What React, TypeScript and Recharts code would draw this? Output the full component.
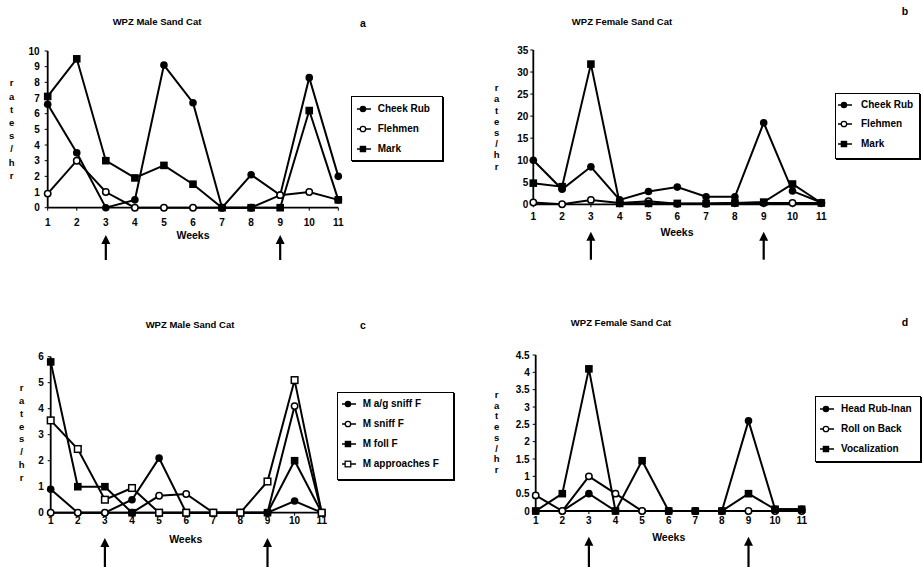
import React from "react";
import { LineChart, Line, XAxis, YAxis } from "recharts";

const FONT = '"Liberation Sans", Arial, Helvetica, sans-serif';

// weeks on the x axis, arrows mark weeks 3 and 9
const weeks = [1, 2, 3, 4, 5, 6, 7, 8, 9, 10, 11];
const arrowWeeks = [3, 9];

// a: WPZ male, scent behaviours
const maleCheekRub = [6.6, 3.5, 0, 0.5, 9.1, 6.7, 0, 2.1, 0.8, 8.3, 2.0];
const maleFlehmen = [0.9, 3.0, 1.0, 0, 0, 0, 0, 0, 0.8, 1.0, 0.5];
const maleMark = [7.1, 9.5, 3.0, 1.9, 2.7, 1.5, 0, 0, 0, 6.2, 0.5];

// b: WPZ female, scent behaviours
const femaleCheekRub = [10.0, 3.4, 8.5, 1.0, 2.9, 3.9, 1.7, 1.7, 18.5, 3.0, 0.4];
const femaleFlehmen = [0.4, 0, 1.0, 0.3, 0.7, 0.1, 0.1, 0.3, 0.3, 0.3, 0.3];
const femaleMark = [4.8, 4.0, 31.8, 0.2, 0.2, 0.2, 0.2, 0.3, 0.5, 4.6, 0.3];

// c: WPZ male, behaviour towards female
const maleAgSniff = [0.9, 0, 0, 0.5, 2.1, 0, 0, 0, 0, 0.45, 0];
const maleSniff = [0, 0, 0, 0, 0.65, 0.72, 0, 0, 0, 4.1, 0];
const maleFollow = [5.8, 1.0, 1.0, 0, 0, 0, 0, 0, 0, 2.0, 0];
const maleApproach = [3.55, 2.45, 0.5, 0.95, 0, 0, 0, 0, 1.2, 5.1, 0];

// d: WPZ female, other behaviours
const femaleHeadRub = [0, 0, 0.5, 0, 0, 0, 0, 0, 2.6, 0.05, 0.05];
const femaleRollOnBack = [0.45, 0, 1.0, 0.5, 0, 0, 0, 0, 0, 0, 0];
const femaleVocalization = [0, 0.5, 4.1, 0, 1.45, 0, 0, 0, 0.5, 0.05, 0.05];

const yTicksA = [0, 1, 2, 3, 4, 5, 6, 7, 8, 9, 10];
const yTicksB = [0, 5, 10, 15, 20, 25, 30, 35];
const yTicksC = [0, 1, 2, 3, 4, 5, 6];
const yTicksD = [0, 0.5, 1, 1.5, 2, 2.5, 3, 3.5, 4, 4.5];

const yLetters = ["r", "a", "t", "e", "s", "/", "h", "r"];

type Shape = "disc" | "ring" | "block" | "box";

function Marker({ shape, cx, cy }: { shape: Shape; cx: number; cy: number }) {
  if (cx == null || cy == null || isNaN(cx) || isNaN(cy)) return null;
  if (shape === "disc") return <circle cx={cx} cy={cy} r={3.8} fill="#000" />;
  if (shape === "ring")
    return <circle cx={cx} cy={cy} r={3.2} fill="#fff" stroke="#000" strokeWidth={1.5} />;
  if (shape === "block")
    return <rect x={cx - 3.8} y={cy - 3.8} width={7.6} height={7.6} fill="#000" />;
  return (
    <rect x={cx - 3.3} y={cy - 3.3} width={6.6} height={6.6} fill="#fff" stroke="#000" strokeWidth={1.5} />
  );
}

const dotOf = (shape: Shape) => (props: any) =>
  <Marker key={`dot-${props.index}`} shape={shape} cx={props.cx} cy={props.cy} />;

const xTickOf = (center: number, arrowTip: number, arrowLen: number) => (props: any) => {
  const { x, y, payload } = props;
  const axisY = y - 5; // tickSize 3 + tickMargin 2
  const tip = axisY + arrowTip;
  return (
    <g>
      <text
        x={x}
        y={axisY + center + 3.6}
        textAnchor="middle"
        fill="#000"
        fontSize={10}
        fontWeight="bold"
        fontFamily={FONT}
      >
        {payload.value}
      </text>
      {arrowWeeks.includes(payload.value) && (
        <g>
          <line x1={x} x2={x} y1={tip + 6} y2={tip + arrowLen} stroke="#000" strokeWidth={2.2} />
          <path d={`M${x},${tip} L${x - 4.5},${tip + 9} L${x + 4.5},${tip + 9} Z`} fill="#000" />
        </g>
      )}
    </g>
  );
};

function Txt({ x, y, size = 10, children }: { x: number; y: number; size?: number; children: any }) {
  return (
    <div
      style={{
        position: "absolute",
        left: x,
        top: y,
        transform: "translate(-50%, -50%)",
        fontSize: size,
        lineHeight: 1,
        fontWeight: "bold",
        whiteSpace: "nowrap",
        fontFamily: FONT,
        color: "#000",
      }}
    >
      {children}
    </div>
  );
}

type SeriesDef = { name: string; values: number[]; shape: Shape };

function LegendBox({
  x, y, w, h, rows, markerX, textX, series,
}: {
  x: number; y: number; w: number; h: number; rows: number[]; markerX: number; textX: number; series: SeriesDef[];
}) {
  return (
    <div
      style={{
        position: "absolute",
        left: x,
        top: y,
        width: w,
        height: h,
        border: "1px solid #000",
        boxShadow: "1px 1px 0 #000",
        boxSizing: "border-box",
        background: "#fff",
      }}
    >
      {series.map((s, i) => (
        <div key={s.name}>
          <svg
            width={20}
            height={10}
            style={{ position: "absolute", left: markerX - 6, top: rows[i] - 5 }}
          >
            <line x1={0} x2={14} y1={5} y2={5} stroke="#000" strokeWidth={1.5} />
            <g transform="scale(0.85) translate(1 0.9)">
              <Marker shape={s.shape} cx={6} cy={5} />
            </g>
          </svg>
          <div
            style={{
              position: "absolute",
              left: textX,
              top: rows[i],
              transform: "translateY(-50%)",
              fontSize: 10,
              lineHeight: 1,
              fontWeight: "bold",
              whiteSpace: "nowrap",
              fontFamily: FONT,
            }}
          >
            {s.name}
          </div>
        </div>
      ))}
    </div>
  );
}

type PanelDef = {
  letter: string;
  title: string;
  left: number;
  top: number;
  width: number;
  height: number;
  margin: { top: number; right: number; bottom: number; left: number };
  xAxisHeight: number;
  yDomain: [number, number];
  yTicks: number[];
  yTickMargin: number;
  series: SeriesDef[];
  tickCenter: number;
  arrowTip: number;
  arrowLen: number;
};

function Panel({ p }: { p: PanelDef }) {
  const data = weeks.map((w, i) => {
    const row: any = { week: w };
    p.series.forEach((s, j) => (row[`s${j}`] = s.values[i]));
    return row;
  });
  return (
    <div style={{ position: "absolute", left: p.left, top: p.top }}>
      <LineChart width={p.width} height={p.height} data={data} margin={p.margin}>
        <XAxis
          dataKey="week"
          type="number"
          domain={[1, 11]}
          ticks={weeks}
          interval={0}
          height={p.xAxisHeight}
          axisLine={{ stroke: "#000", strokeWidth: 1.8 }}
          tickLine={{ stroke: "#000", strokeWidth: 1 }}
          tickSize={3}
          tickMargin={2}
          tick={xTickOf(p.tickCenter, p.arrowTip, p.arrowLen)}
        />
        <YAxis
          type="number"
          domain={p.yDomain}
          ticks={p.yTicks}
          interval={0}
          width={30}
          axisLine={{ stroke: "#000", strokeWidth: 1.8 }}
          tickLine={{ stroke: "#000", strokeWidth: 1 }}
          tickSize={3}
          tickMargin={p.yTickMargin}
          tick={{ fill: "#000", fontSize: 10, fontWeight: "bold", fontFamily: FONT }}
        />
        {p.series.map((s, j) => (
          <Line
            key={s.name}
            type="linear"
            dataKey={`s${j}`}
            name={s.name}
            stroke="#000"
            strokeWidth={2}
            dot={dotOf(s.shape)}
            activeDot={false}
            isAnimationActive={false}
          />
        ))}
      </LineChart>
    </div>
  );
}

const seriesA: SeriesDef[] = [
  { name: "Cheek Rub", values: maleCheekRub, shape: "disc" },
  { name: "Flehmen", values: maleFlehmen, shape: "ring" },
  { name: "Mark", values: maleMark, shape: "block" },
];
const seriesB: SeriesDef[] = [
  { name: "Cheek Rub", values: femaleCheekRub, shape: "disc" },
  { name: "Flehmen", values: femaleFlehmen, shape: "ring" },
  { name: "Mark", values: femaleMark, shape: "block" },
];
const seriesC: SeriesDef[] = [
  { name: "M a/g sniff F", values: maleAgSniff, shape: "disc" },
  { name: "M sniff F", values: maleSniff, shape: "ring" },
  { name: "M foll F", values: maleFollow, shape: "block" },
  { name: "M approaches F", values: maleApproach, shape: "box" },
];
const seriesD: SeriesDef[] = [
  { name: "Head Rub-Inan", values: femaleHeadRub, shape: "disc" },
  { name: "Roll on Back", values: femaleRollOnBack, shape: "ring" },
  { name: "Vocalization", values: femaleVocalization, shape: "block" },
];

const panelA: PanelDef = {
  letter: "a", title: "WPZ Male Sand Cat",
  left: 0, top: 0, width: 461, height: 290,
  margin: { top: 51, right: 122.7, bottom: 22.3, left: 17.7 },
  xAxisHeight: 60, yDomain: [0, 10], yTicks: yTicksA, yTickMargin: 5,
  series: seriesA, tickCenter: 14.3, arrowTip: 27.3, arrowLen: 25,
};
const panelB: PanelDef = {
  letter: "b", title: "WPZ Female Sand Cat",
  left: 461, top: 0, width: 461, height: 290,
  margin: { top: 50, right: 100.7, bottom: 25.7, left: 42.3 },
  xAxisHeight: 60, yDomain: [0, 35], yTicks: yTicksB, yTickMargin: 2,
  series: seriesB, tickCenter: 12.4, arrowTip: 27.4, arrowLen: 28,
};
const panelC: PanelDef = {
  letter: "c", title: "WPZ Male Sand Cat",
  left: 0, top: 290, width: 461, height: 277,
  margin: { top: 66.7, right: 139.3, bottom: 4.3, left: 20.7 },
  xAxisHeight: 50, yDomain: [0, 6], yTicks: yTicksC, yTickMargin: 4,
  series: seriesC, tickCenter: 8, arrowTip: 25.3, arrowLen: 40,
};
const panelD: PanelDef = {
  letter: "d", title: "WPZ Female Sand Cat",
  left: 461, top: 290, width: 461, height: 277,
  margin: { top: 65, right: 120.3, bottom: 6, left: 44.7 },
  xAxisHeight: 50, yDomain: [0, 4.5], yTicks: yTicksD, yTickMargin: 3,
  series: seriesD, tickCenter: 9, arrowTip: 25.7, arrowLen: 40,
};

function YLetters({ x, cy, step }: { x: number; cy: number; step: number }) {
  return (
    <>
      {yLetters.map((c, i) => (
        <Txt key={i} x={x} y={cy + (i - 3.5) * step} size={9.5}>
          {c}
        </Txt>
      ))}
    </>
  );
}

export default function App() {
  return (
    <div
      style={{
        position: "absolute",
        left: 0,
        top: 0,
        width: 922,
        height: 567,
        background: "#fff",
        overflow: "hidden",
        fontFamily: FONT,
      }}
    >
      <Panel p={panelA} />
      <Panel p={panelB} />
      <Panel p={panelC} />
      <Panel p={panelD} />

      <Txt x={157} y={22} size={9.5}>{panelA.title}</Txt>
      <Txt x={363} y={23} size={10.5}>{panelA.letter}</Txt>
      <Txt x={622} y={22} size={9.5}>{panelB.title}</Txt>
      <Txt x={905} y={11} size={10.5}>{panelB.letter}</Txt>
      <Txt x={190} y={325} size={9.5}>{panelC.title}</Txt>
      <Txt x={363} y={325} size={10.5}>{panelC.letter}</Txt>
      <Txt x={621} y={323} size={9.5}>{panelD.title}</Txt>
      <Txt x={905} y={322} size={10.5}>{panelD.letter}</Txt>

      <Txt x={193} y={235} size={10.5}>Weeks</Txt>
      <Txt x={677} y={231.7} size={10.5}>Weeks</Txt>
      <Txt x={185.7} y={539} size={10.5}>Weeks</Txt>
      <Txt x={668.7} y={537} size={10.5}>Weeks</Txt>

      <YLetters x={11.7} cy={129.5} step={13.2} />
      <YLetters x={496.7} cy={127.3} step={11.2} />
      <YLetters x={21.7} cy={433} step={12.9} />
      <YLetters x={496.7} cy={432.5} step={10.7} />

      <LegendBox x={351} y={96} w={92} h={65} rows={[12, 32, 52]} markerX={10.7} textX={25.7} series={seriesA} />
      <LegendBox x={835} y={92.7} w={85} h={66} rows={[11.3, 30.6, 50]} markerX={8.3} textX={25} series={seriesB} />
      <LegendBox x={337} y={392} w={117} h={88} rows={[11.3, 31.3, 51.3, 71.3]} markerX={9.7} textX={24.7} series={seriesC} />
      <LegendBox x={815} y={395.5} w={106} h={66} rows={[12.8, 32.8, 52.8]} markerX={10} textX={25} series={seriesD} />
    </div>
  );
}
